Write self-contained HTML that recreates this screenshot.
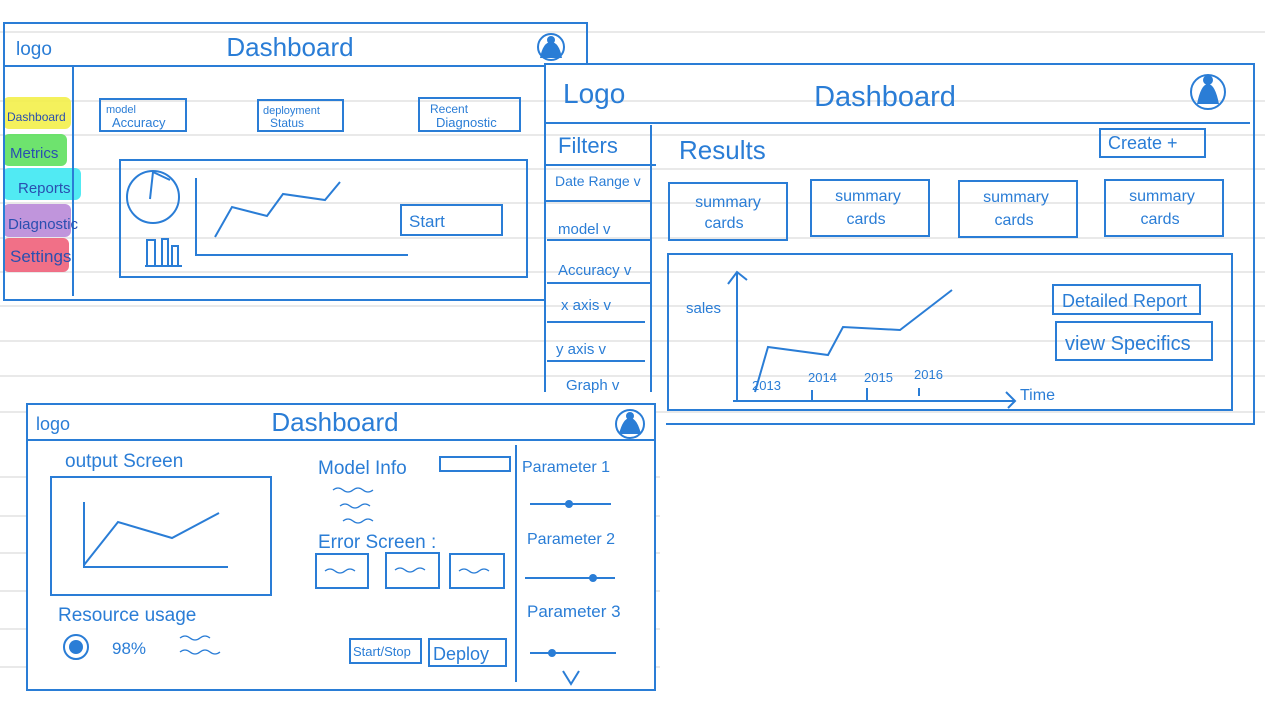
<!DOCTYPE html>
<html><head><meta charset="utf-8"><style>
html,body{margin:0;padding:0;background:#fff;width:1280px;height:720px;overflow:hidden}
svg{display:block}
text{font-family:"Liberation Sans",sans-serif;fill:#2a7dd6}
</style></head><body>
<svg width="1280" height="720" viewBox="0 0 1280 720" xmlns="http://www.w3.org/2000/svg">
<g stroke="#e2e2e2" stroke-width="1.5">
<line x1="0" y1="32" x2="1265" y2="32"/><line x1="0" y1="101" x2="1265" y2="101"/>
<line x1="0" y1="135" x2="1265" y2="135"/><line x1="0" y1="169" x2="1265" y2="169"/>
<line x1="0" y1="203" x2="1265" y2="203"/><line x1="0" y1="238" x2="1265" y2="238"/>
<line x1="0" y1="272" x2="1265" y2="272"/><line x1="0" y1="306" x2="1265" y2="306"/>
<line x1="0" y1="341" x2="1265" y2="341"/><line x1="0" y1="376" x2="1265" y2="376"/>
<line x1="0" y1="412" x2="1265" y2="412"/>
<line x1="0" y1="477" x2="660" y2="477"/><line x1="0" y1="516" x2="660" y2="516"/>
<line x1="0" y1="553" x2="660" y2="553"/><line x1="0" y1="591" x2="660" y2="591"/>
<line x1="0" y1="629" x2="660" y2="629"/><line x1="0" y1="667" x2="660" y2="667"/>
</g>
<rect x="3" y="97" width="68" height="32" rx="6" fill="#f3f04a" opacity="0.9"/>
<rect x="3" y="134" width="64" height="32" rx="6" fill="#5ee05e" opacity="0.9"/>
<rect x="3" y="168" width="78" height="32" rx="6" fill="#3ee8f2" opacity="0.9"/>
<rect x="3" y="204" width="68" height="33" rx="6" fill="#b98ad8" opacity="0.9"/>
<rect x="3" y="238" width="66" height="34" rx="6" fill="#f0607a" opacity="0.9"/>
<g fill="none" stroke="#2a7dd6" stroke-width="2">
<path d="M545 300H4V23h583v41"/>
<line x1="4" y1="66" x2="545" y2="66"/>
<line x1="73" y1="66" x2="73" y2="296"/>
<circle cx="551" cy="47" r="13"/>
<rect x="100" y="99" width="86" height="32"/>
<rect x="258" y="100" width="85" height="31"/>
<rect x="419" y="98" width="101" height="33"/>
<rect x="120" y="160" width="407" height="117"/>
<circle cx="153" cy="197" r="26"/><polyline points="150,199 153,172 170,180"/>
<polyline points="145,266 182,266"/>
<path d="M147 266V240h8v26M162 266V239h6v27M172 266V246h6v20"/>
<polyline points="196,178 196,255 408,255"/>
<polyline points="215,237 232,207 267,216 283,194 325,200 340,182"/>
<rect x="401" y="205" width="101" height="30"/>
<path d="M545 392V64h709v360H666"/>
<line x1="545" y1="123" x2="1250" y2="123"/>
<line x1="651" y1="125" x2="651" y2="392"/>
<circle cx="1208" cy="92" r="17"/>
<line x1="545" y1="165" x2="656" y2="165"/>
<line x1="545" y1="201" x2="651" y2="201"/>
<line x1="547" y1="240" x2="651" y2="240"/>
<line x1="547" y1="283" x2="651" y2="283"/>
<line x1="547" y1="322" x2="645" y2="322"/>
<line x1="547" y1="361" x2="645" y2="361"/>
<rect x="1100" y="129" width="105" height="28"/>
<rect x="669" y="183" width="118" height="57"/>
<rect x="811" y="180" width="118" height="56"/>
<rect x="959" y="181" width="118" height="56"/>
<rect x="1105" y="180" width="118" height="56"/>
<rect x="668" y="254" width="564" height="156"/>
<line x1="737" y1="272" x2="737" y2="400"/><polyline points="728,284 737,272 747,280"/>
<line x1="733" y1="401" x2="1015" y2="401"/><polyline points="1006,392 1015,401 1008,408"/>
<polyline points="755,392 768,347 828,355 843,327 900,330 952,290"/>
<path d="M812 390v10M867 388v12M919 388v8"/>
<rect x="1053" y="285" width="147" height="29"/>
<rect x="1056" y="322" width="156" height="38"/>
<rect x="27" y="404" width="628" height="286" fill="#fff"/>
<line x1="27" y1="440" x2="655" y2="440"/>
<line x1="516" y1="445" x2="516" y2="682"/>
<circle cx="630" cy="424" r="14"/>
<rect x="51" y="477" width="220" height="118"/>
<polyline points="84,502 84,567 228,567"/>
<polyline points="84,565 118,522 172,538 219,513"/>
<circle cx="76" cy="647" r="12"/>
<rect x="440" y="457" width="70" height="14"/>
<rect x="316" y="554" width="52" height="34"/><rect x="386" y="553" width="53" height="35"/><rect x="450" y="554" width="54" height="34"/>
<rect x="350" y="639" width="71" height="24"/><rect x="429" y="639" width="77" height="27"/>
<line x1="530" y1="504" x2="611" y2="504"/><line x1="525" y1="578" x2="615" y2="578"/><line x1="530" y1="653" x2="616" y2="653"/>
<polyline points="563,671 571,684 579,671"/>
<g stroke-width="1.3"><path d="M333 490q5-4 10 0t10 0 10 0 10 0M340 506q5-4 10 0t10 0 10 0M343 521q5-4 10 0t10 0 10 0M325 571q5-4 10 0t10 0 10 0M395 570q5-4 10 0t10 0 10 0M459 571q5-4 10 0t10 0 10 0M180 638q5-4 10 0t10 0 10 0M180 652q5-4 10 0t10 0 10 0 10 0"/></g>
</g>
<g fill="#2a7dd6">
<path d="M540 58q3-16 11-16t11 16z"/><circle cx="551" cy="40" r="4"/>
<path d="M1197 104q4-20 11-20t11 20z"/><circle cx="1208" cy="80" r="5"/>
<path d="M619 434q4-16 11-16t11 16z"/><circle cx="630" cy="416" r="4"/>
<circle cx="76" cy="647" r="7"/>
<circle cx="569" cy="504" r="4"/><circle cx="593" cy="578" r="4"/><circle cx="552" cy="653" r="4"/>
</g>
<text x="16" y="55" font-size="19">logo</text>
<text x="290" y="56" font-size="26" text-anchor="middle">Dashboard</text>
<g font-size="12">
<text x="7" y="121" style="fill:#2a4fb0">Dashboard</text>
<text x="10" y="158" font-size="15" style="fill:#2a4fb0">Metrics</text>
<text x="18" y="193" font-size="15" style="fill:#2a4fb0">Reports</text>
<text x="8" y="229" font-size="15" style="fill:#2a4fb0">Diagnostic</text>
<text x="10" y="262" font-size="17" style="fill:#2a4fb0">Settings</text>
</g>
<text x="106" y="113" font-size="11">model</text><text x="112" y="127" font-size="13">Accuracy</text>
<text x="263" y="114" font-size="11">deployment</text><text x="270" y="127" font-size="12">Status</text>
<text x="430" y="113" font-size="12">Recent</text><text x="436" y="127" font-size="13">Diagnostic</text>
<text x="409" y="227" font-size="17">Start</text>
<text x="563" y="103" font-size="28">Logo</text>
<text x="885" y="106" font-size="29" text-anchor="middle">Dashboard</text>
<text x="558" y="153" font-size="22">Filters</text>
<text x="555" y="186" font-size="14">Date Range v</text>
<text x="558" y="234" font-size="15">model  v</text>
<text x="558" y="275" font-size="15">Accuracy v</text>
<text x="561" y="310" font-size="15">x axis  v</text>
<text x="556" y="354" font-size="15">y  axis  v</text>
<text x="566" y="390" font-size="15">Graph  v</text>
<text x="679" y="159" font-size="26">Results</text>
<text x="1108" y="149" font-size="18">Create  +</text>
<g font-size="16" text-anchor="middle">
<text x="728" y="207">summary</text><text x="724" y="228">cards</text>
<text x="868" y="201">summary</text><text x="866" y="224">cards</text>
<text x="1016" y="202">summary</text><text x="1014" y="225">cards</text>
<text x="1162" y="201">summary</text><text x="1160" y="224">cards</text>
</g>
<text x="686" y="313" font-size="15">sales</text>
<g font-size="13"><text x="752" y="390">2013</text><text x="808" y="382">2014</text><text x="864" y="382">2015</text><text x="914" y="379">2016</text></g>
<text x="1020" y="400" font-size="16">Time</text>
<text x="1062" y="307" font-size="18">Detailed Report</text>
<text x="1065" y="350" font-size="20">view  Specifics</text>
<text x="36" y="430" font-size="18">logo</text>
<text x="335" y="431" font-size="26" text-anchor="middle">Dashboard</text>
<text x="65" y="467" font-size="19">output   Screen</text>
<text x="318" y="474" font-size="19">Model Info</text>
<text x="318" y="548" font-size="19">Error  Screen :</text>
<text x="58" y="621" font-size="19">Resource   usage</text>
<text x="112" y="654" font-size="17">98%</text>
<text x="353" y="656" font-size="13">Start/Stop</text>
<text x="433" y="660" font-size="18">Deploy</text>
<text x="522" y="472" font-size="16">Parameter 1</text>
<text x="527" y="544" font-size="16">Parameter 2</text>
<text x="527" y="617" font-size="17">Parameter 3</text>
</svg>
</body></html>
